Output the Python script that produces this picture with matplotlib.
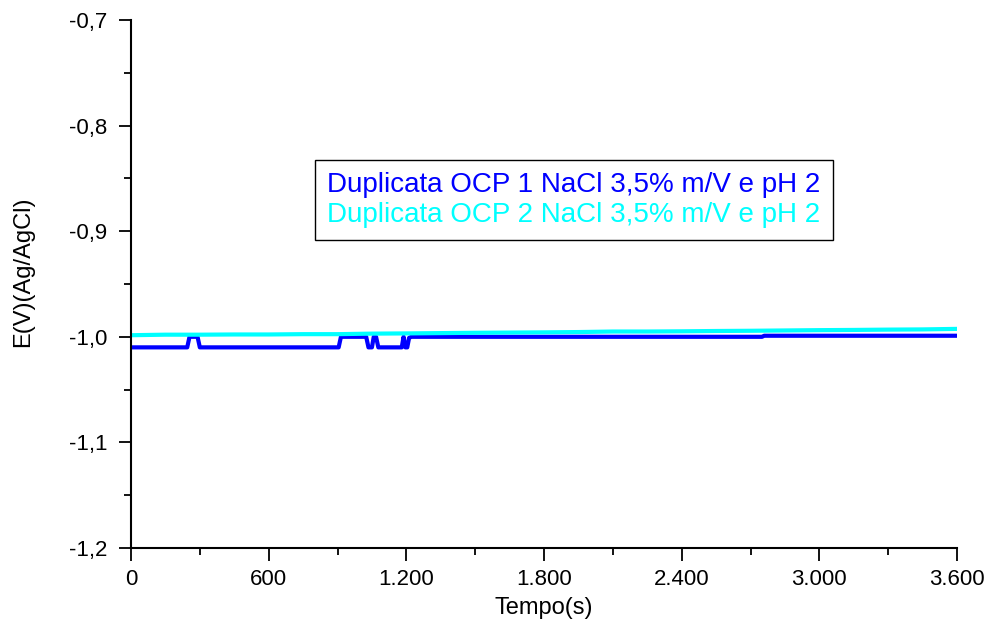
import matplotlib

matplotlib.use("Agg")

import matplotlib.pyplot as plt
from matplotlib.ticker import FuncFormatter, MultipleLocator, AutoMinorLocator

plt.rcParams["font.family"] = ["Liberation Sans", "DejaVu Sans"]

# OCP 1: step trace (time s, potential V)
t1 = [0, 245, 255, 290, 300, 905, 915, 1025, 1035, 1050, 1058, 1068, 1078, 1180, 1188, 1196, 1204, 1212, 1222, 2750, 2760, 3350, 3600]
e1 = [-1.010, -1.010, -1.000, -1.000, -1.010, -1.010, -1.000, -1.000, -1.010, -1.010, -1.000, -1.000, -1.010, -1.010, -1.000, -1.010, -1.010, -1.001, -1.000, -1.000, -0.999, -0.999, -0.999]
# OCP 2: slow drift
t2 = [0, 150, 300, 450, 600, 750, 900, 1050, 1200, 1350, 1500, 1650, 1800, 1950, 2100, 2250, 2400, 2550, 2700, 2850, 3000, 3150, 3300, 3450, 3600]
e2 = [-0.9985, -0.998, -0.998, -0.9978, -0.9978, -0.9975, -0.9975, -0.997, -0.9968, -0.9965, -0.9962, -0.996, -0.9958, -0.9955, -0.995, -0.995, -0.9948, -0.9945, -0.9943, -0.994, -0.9937, -0.9935, -0.9932, -0.993, -0.9925]

labels = [
    "Duplicata OCP 1 NaCl 3,5% m/V e pH 2",
    "Duplicata OCP 2 NaCl 3,5% m/V e pH 2",
]
colors = ["#0000ff", "#00ffff"]

fig = plt.figure(figsize=(9.89, 6.25), dpi=100)
ax = fig.add_axes([131 / 989, 1 - 548 / 625, (957 - 131) / 989, (548 - 20) / 625])

ax.plot(t1, e1, color=colors[0], lw=3, label=labels[0])
ax.plot(t2, e2, color=colors[1], lw=3, label=labels[1])

ax.set_xlim(0, 3600)
ax.set_ylim(-1.2, -0.7)
ax.xaxis.set_major_locator(MultipleLocator(600))
ax.xaxis.set_minor_locator(AutoMinorLocator(2))
ax.yaxis.set_major_locator(MultipleLocator(0.1))
ax.yaxis.set_minor_locator(AutoMinorLocator(2))
ax.xaxis.set_major_formatter(FuncFormatter(lambda v, p: f"{int(round(v)):,}".replace(",", ".")))
ax.yaxis.set_major_formatter(FuncFormatter(lambda v, p: f"{v:.1f}".replace(".", ",")))

for s in ("top", "right"):
    ax.spines[s].set_visible(False)
for s in ("left", "bottom"):
    ax.spines[s].set_linewidth(1.5)
ax.tick_params(which="major", direction="out", length=9, width=1.3, labelsize=16)
ax.tick_params(axis="y", which="major", pad=8)
ax.tick_params(axis="x", which="major", pad=6)
ax.tick_params(which="minor", direction="out", length=5, width=1.3)

ax.set_xlabel("Tempo(s)", fontsize=17)
ax.set_ylabel("E(V)(Ag/AgCl)", fontsize=17)
ax.xaxis.set_label_coords(0.5, (548 - 597) / 528)
ax.yaxis.set_label_coords((34 - 131) / 826, (548 - 272) / 528)

leg = ax.legend(
    loc="center",
    bbox_to_anchor=((574 - 131) / 826, (548 - 200) / 528),
    handlelength=0,
    handletextpad=0,
    labelcolor="linecolor",
    fancybox=False,
    edgecolor="black",
    framealpha=1,
    fontsize=20,
    borderpad=0.45,
    labelspacing=0.12,
    borderaxespad=0,
)
leg.get_frame().set_linewidth(1.0)
for h in leg.legend_handles:
    h.set_visible(False)

fig.savefig("out.png", dpi=100)
